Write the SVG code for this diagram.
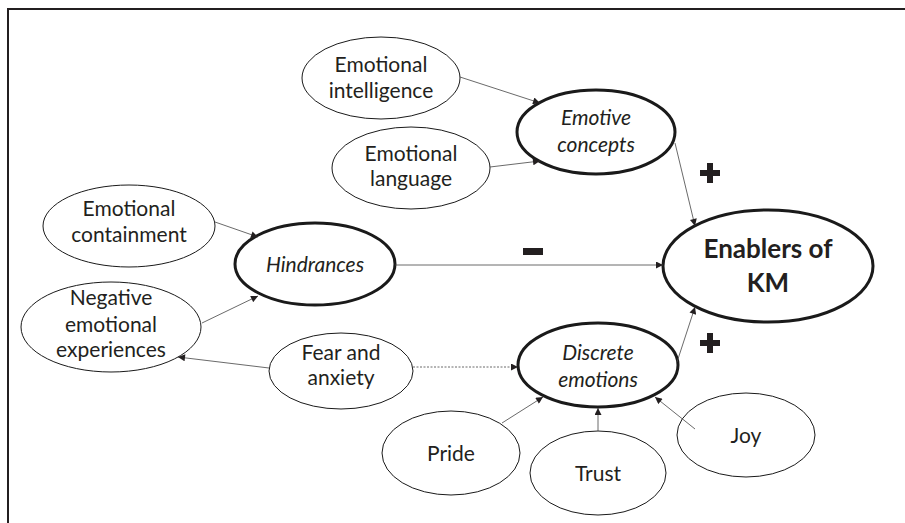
<svg xmlns="http://www.w3.org/2000/svg" width="905" height="523" viewBox="0 0 905 523">
<defs>
<style>
.thin{fill:#fff;stroke:#1a1a1a;stroke-width:1}
.thick{fill:#fff;stroke:#1a1a1a;stroke-width:3}
text{font-family:Lato,"Liberation Sans",sans-serif;font-size:21px;fill:#231f20;text-anchor:middle}
.it{font-style:italic}
.bold{font-weight:bold;font-size:26px}
.c{stroke:#444;stroke-width:0.8;fill:none;marker-end:url(#ah)}
.dot{stroke-dasharray:2 1.5}
.sign{fill:#231f20}
</style>
<marker id="ah" viewBox="0 0 10 10" refX="10" refY="5" markerWidth="8" markerHeight="7" markerUnits="userSpaceOnUse" orient="auto">
<path d="M0,0 L10,5 L0,10 z" fill="#231f20"/>
</marker>
</defs>
<rect width="905" height="523" fill="#fff"/>
<path d="M8,523 V9 H905" fill="none" stroke="#231f20" stroke-width="2"/>

<g id="signs">
<path class="sign" d="M707,163 h6 v7 h7 v6 h-7 v7 h-6 v-7 h-7 v-6 h7 z"/>
<path class="sign" d="M707,333 h6 v7 h7 v6 h-7 v7 h-6 v-7 h-7 v-6 h7 z"/>
<rect class="sign" x="523" y="248" width="20" height="7"/>
</g>

<g id="emotional-intelligence">
<ellipse class="thin" cx="381" cy="78" rx="79" ry="41"/>
<text x="381" y="72">Emotional</text>
<text x="381" y="98">intelligence</text>
</g>
<g id="emotive-concepts">
<ellipse class="thick" cx="596" cy="132" rx="79" ry="42"/>
<text class="it" x="596" y="125">Emotive</text>
<text class="it" x="596" y="152">concepts</text>
</g>
<g id="emotional-language">
<ellipse class="thin" cx="411" cy="168" rx="79" ry="41"/>
<text x="411" y="161">Emotional</text>
<text x="411" y="186">language</text>
</g>
<g id="emotional-containment">
<ellipse class="thin" cx="129" cy="226" rx="86" ry="41"/>
<text x="129" y="216">Emotional</text>
<text x="129" y="242">containment</text>
</g>
<g id="hindrances">
<ellipse class="thick" cx="315" cy="264" rx="80" ry="41"/>
<text class="it" x="315" y="272">Hindrances</text>
</g>
<g id="negative-emotional-experiences">
<ellipse class="thin" cx="111" cy="327" rx="90" ry="45"/>
<text x="111" y="305">Negative</text>
<text x="111" y="332">emotional</text>
<text x="111" y="357">experiences</text>
</g>
<g id="fear-and-anxiety">
<ellipse class="thin" cx="341" cy="371" rx="72" ry="38"/>
<text x="341" y="360">Fear and</text>
<text x="341" y="385">anxiety</text>
</g>
<g id="discrete-emotions">
<ellipse class="thick" cx="598" cy="365" rx="80" ry="42"/>
<text class="it" x="598" y="360">Discrete</text>
<text class="it" x="598" y="387">emotions</text>
</g>
<g id="enablers-of-km">
<ellipse class="thick" cx="768" cy="266" rx="105" ry="56"/>
<text class="bold" x="768" y="258">Enablers of</text>
<text class="bold" x="768" y="292">KM</text>
</g>
<g id="pride">
<ellipse class="thin" cx="451" cy="453" rx="69" ry="42"/>
<text x="451" y="461">Pride</text>
</g>
<g id="trust">
<ellipse class="thin" cx="598" cy="473" rx="68" ry="42"/>
<text x="598" y="481">Trust</text>
</g>
<g id="joy">
<ellipse class="thin" cx="746" cy="435" rx="69" ry="42"/>
<text x="746" y="443">Joy</text>
</g>

<g id="connectors">
<line class="c" x1="460" y1="77" x2="540" y2="103"/>
<line class="c" x1="490" y1="167" x2="540" y2="161"/>
<line class="c" x1="675" y1="143" x2="695" y2="226"/>
<line class="c" x1="395" y1="265" x2="663" y2="265"/>
<line class="c" x1="677" y1="362" x2="695" y2="307"/>
<line class="c" x1="215" y1="222" x2="258" y2="237"/>
<line class="c" x1="202" y1="323" x2="258" y2="296"/>
<line class="c" x1="269" y1="368" x2="178" y2="357"/>
<line class="c dot" x1="413" y1="367" x2="518" y2="367"/>
<line class="c" x1="502" y1="423" x2="543" y2="397"/>
<line class="c" x1="598" y1="431" x2="598" y2="408"/>
<line class="c" x1="695" y1="429" x2="655" y2="397"/>
</g>
</svg>
